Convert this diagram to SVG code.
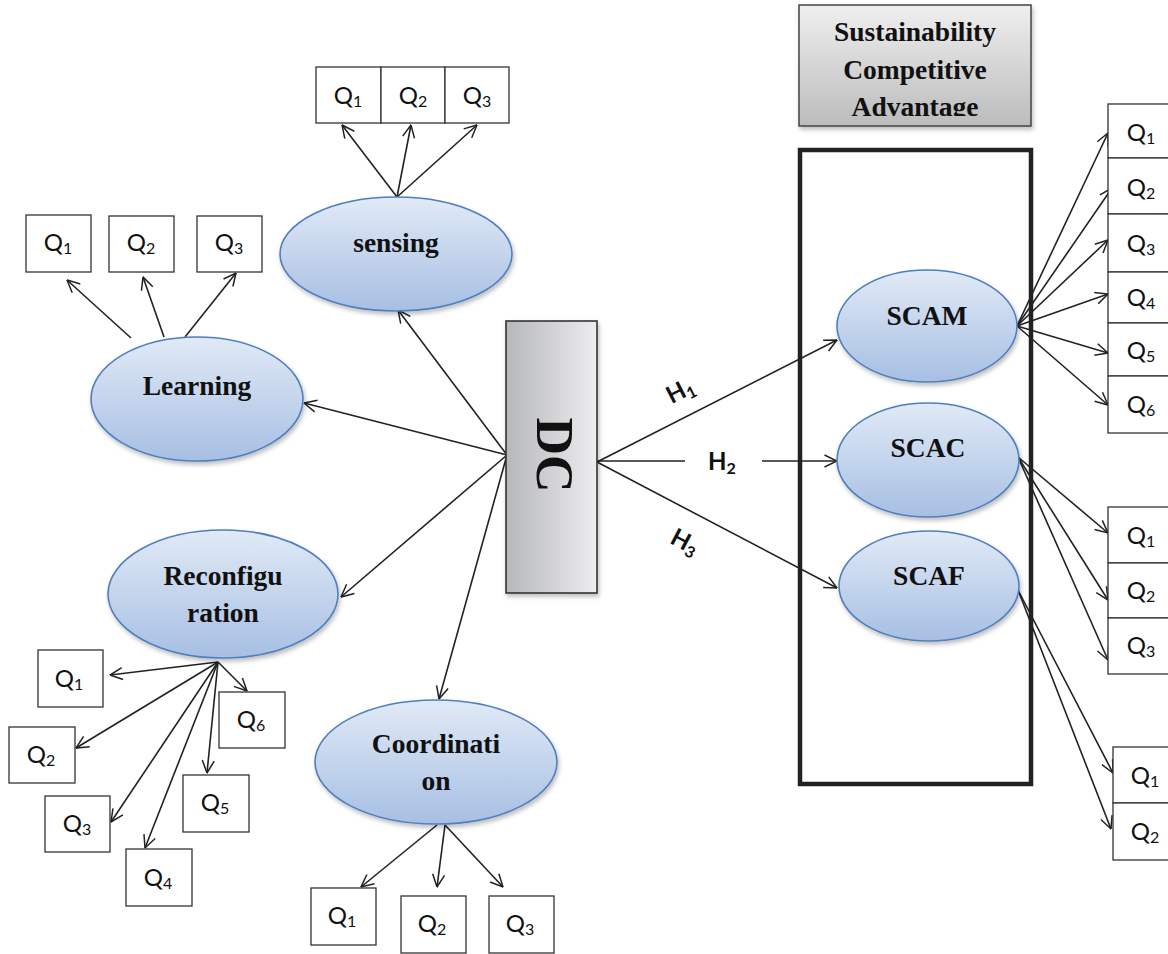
<svg xmlns="http://www.w3.org/2000/svg" width="1168" height="954" viewBox="0 0 1168 954">
<style>
.q{fill:#fff;stroke:#333;stroke-width:1.3}
.ql{font-family:Lato,"Open Sans",sans-serif;font-size:24px;fill:#111;text-anchor:middle}
.sub{font-size:16px}
.el{fill:url(#eg);stroke:#4f7fbe;stroke-width:1.6;filter:url(#sh)}
.lt{font-family:"Liberation Serif","Times New Roman",serif;font-weight:bold;font-size:27.5px;fill:#111;text-anchor:middle}
.c{stroke:#222;stroke-width:1.6;fill:none;marker-end:url(#ah)}
.hl{font-family:Lato,"Open Sans",sans-serif;font-weight:bold;font-size:24px;fill:#111;text-anchor:middle}
</style>
<defs>
<linearGradient id="eg" x1="0" y1="0" x2="0" y2="1">
<stop offset="0" stop-color="#e1eaf6"/><stop offset="1" stop-color="#a7bfe3"/>
</linearGradient>
<linearGradient id="dg" x1="0" y1="0" x2="1" y2="0">
<stop offset="0" stop-color="#b6b7ba"/><stop offset="1" stop-color="#ededef"/>
</linearGradient>
<linearGradient id="sg" x1="0" y1="0" x2="0" y2="1">
<stop offset="0" stop-color="#efefef"/><stop offset="1" stop-color="#bcbcbc"/>
</linearGradient>
<filter id="sh" x="-10%" y="-10%" width="125%" height="130%">
<feDropShadow dx="1.5" dy="3" stdDeviation="2" flood-color="#000" flood-opacity="0.25"/>
</filter>
<clipPath id="sc"><rect x="799" y="5" width="232" height="111"/></clipPath>
<marker id="ah" viewBox="0 0 14 14" refX="13.5" refY="7" markerWidth="14" markerHeight="14" markerUnits="userSpaceOnUse" orient="auto">
<path d="M1,1 L13.5,7 L1,13" fill="none" stroke="#222" stroke-width="1.5"/>
</marker>
</defs>
<rect width="1168" height="954" fill="#fff"/>

<g id="sca-box">
<rect x="799" y="5" width="232" height="121" fill="url(#sg)" stroke="#444" stroke-width="1.5" filter="url(#sh)"/>
<g clip-path="url(#sc)">
<text class="lt" x="915" y="41">Sustainability</text>
<text class="lt" x="915" y="79">Competitive</text>
<text class="lt" x="915" y="116">Advantage</text>
</g>
</g>
<g id="sca-frame">
<rect x="800" y="150" width="231" height="634" fill="none" stroke="#222" stroke-width="4.5"/>
</g>

<g id="connectors">
<line class="c" x1="397" y1="197" x2="342" y2="125"/>
<line class="c" x1="397" y1="197" x2="411" y2="125"/>
<line class="c" x1="397" y1="197" x2="477" y2="125"/>
<line class="c" x1="131" y1="338" x2="67" y2="280"/>
<line class="c" x1="164" y1="337" x2="143" y2="277"/>
<line class="c" x1="185" y1="337" x2="236" y2="273"/>
<line class="c" x1="507" y1="455" x2="398" y2="310"/>
<line class="c" x1="507" y1="455" x2="304" y2="403"/>
<line class="c" x1="507" y1="455" x2="341" y2="597"/>
<line class="c" x1="507" y1="455" x2="439" y2="699"/>
<line class="c" x1="218" y1="662" x2="110" y2="675"/>
<line class="c" x1="218" y1="662" x2="76" y2="748"/>
<line class="c" x1="218" y1="662" x2="111" y2="822"/>
<line class="c" x1="218" y1="662" x2="145" y2="848"/>
<line class="c" x1="218" y1="662" x2="207" y2="773"/>
<line class="c" x1="218" y1="662" x2="247" y2="691"/>
<line class="c" x1="437" y1="825" x2="361" y2="887"/>
<line class="c" x1="445" y1="825" x2="437" y2="887"/>
<line class="c" x1="445" y1="825" x2="503" y2="887"/>
<line class="c" x1="597" y1="462" x2="837" y2="340"/>
<line stroke="#222" stroke-width="1.6" x1="597" y1="461" x2="685" y2="461"/>
<line class="c" x1="762" y1="461" x2="837" y2="461"/>
<line class="c" x1="597" y1="462" x2="837" y2="588"/>
<line class="c" x1="1017" y1="326" x2="1108" y2="133"/>
<line class="c" x1="1017" y1="326" x2="1112" y2="188"/>
<line class="c" x1="1017" y1="326" x2="1108" y2="240"/>
<line class="c" x1="1017" y1="326" x2="1108" y2="294"/>
<line class="c" x1="1017" y1="326" x2="1108" y2="353"/>
<line class="c" x1="1017" y1="326" x2="1108" y2="405"/>
<line class="c" x1="1018" y1="457" x2="1108" y2="533"/>
<line class="c" x1="1018" y1="457" x2="1108" y2="600"/>
<line class="c" x1="1018" y1="457" x2="1108" y2="660"/>
<line class="c" x1="1018" y1="590" x2="1113" y2="773"/>
<line class="c" x1="1018" y1="590" x2="1111" y2="829"/>
<text class="hl" transform="translate(684,398) rotate(-27)">H<tspan class="sub" dy="4">1</tspan></text>
<text class="hl" x="722" y="470">H<tspan class="sub" dy="4">2</tspan></text>
<text class="hl" transform="translate(681,549) rotate(28)">H<tspan class="sub" dy="4">3</tspan></text>
</g>

<g id="dc">
<rect x="506" y="321" width="91" height="272" fill="url(#dg)" stroke="#333" stroke-width="1.6" filter="url(#sh)"/>
<text transform="translate(537,455) rotate(90)" x="0" y="0" font-family="'Liberation Serif','Times New Roman',serif" font-weight="bold" font-size="52" fill="#111" text-anchor="middle">DC</text>
</g>

<g id="sensing">
<ellipse class="el" cx="396" cy="254" rx="116" ry="57"/>
<text class="lt" x="396" y="252">sensing</text>
</g>
<g id="sensing-q">
<rect class="q" x="316" y="67" width="65" height="56"/>
<rect class="q" x="381" y="67" width="64" height="56"/>
<rect class="q" x="445" y="67" width="64" height="56"/>
<text class="ql" x="348" y="104">Q<tspan class="sub" dy="3">1</tspan></text>
<text class="ql" x="413" y="104">Q<tspan class="sub" dy="3">2</tspan></text>
<text class="ql" x="477" y="104">Q<tspan class="sub" dy="3">3</tspan></text>
</g>

<g id="learning">
<ellipse class="el" cx="197" cy="399" rx="106" ry="62"/>
<text class="lt" x="197" y="395">Learning</text>
</g>
<g id="learning-q">
<rect class="q" x="26" y="215" width="65" height="57"/>
<rect class="q" x="109" y="216" width="65" height="56"/>
<rect class="q" x="197" y="216" width="65" height="56"/>
<text class="ql" x="58" y="251">Q<tspan class="sub" dy="3">1</tspan></text>
<text class="ql" x="141" y="251">Q<tspan class="sub" dy="3">2</tspan></text>
<text class="ql" x="229" y="251">Q<tspan class="sub" dy="3">3</tspan></text>
</g>

<g id="reconfiguration">
<ellipse class="el" cx="223" cy="594" rx="115" ry="64"/>
<text class="lt" x="223" y="585">Reconfigu</text>
<text class="lt" x="223" y="622">ration</text>
</g>
<g id="reconfiguration-q">
<rect class="q" x="38" y="650" width="65" height="57"/>
<rect class="q" x="9" y="727" width="66" height="56"/>
<rect class="q" x="45" y="796" width="65" height="56"/>
<rect class="q" x="126" y="849" width="66" height="57"/>
<rect class="q" x="183" y="775" width="66" height="57"/>
<rect class="q" x="219" y="692" width="66" height="56"/>
<text class="ql" x="69" y="687">Q<tspan class="sub" dy="3">1</tspan></text>
<text class="ql" x="41" y="763">Q<tspan class="sub" dy="3">2</tspan></text>
<text class="ql" x="77" y="832">Q<tspan class="sub" dy="3">3</tspan></text>
<text class="ql" x="158" y="886">Q<tspan class="sub" dy="3">4</tspan></text>
<text class="ql" x="215" y="811">Q<tspan class="sub" dy="3">5</tspan></text>
<text class="ql" x="251" y="728">Q<tspan class="sub" dy="3">6</tspan></text>
</g>

<g id="coordination">
<ellipse class="el" cx="436" cy="762" rx="121" ry="62"/>
<text class="lt" x="436" y="753">Coordinati</text>
<text class="lt" x="436" y="790">on</text>
</g>
<g id="coordination-q">
<rect class="q" x="311" y="888" width="65" height="57"/>
<rect class="q" x="401" y="896" width="65" height="57"/>
<rect class="q" x="489" y="896" width="65" height="57"/>
<text class="ql" x="342" y="924">Q<tspan class="sub" dy="3">1</tspan></text>
<text class="ql" x="432" y="932">Q<tspan class="sub" dy="3">2</tspan></text>
<text class="ql" x="520" y="932">Q<tspan class="sub" dy="3">3</tspan></text>
</g>

<g id="scam">
<ellipse class="el" cx="927" cy="326" rx="90" ry="56"/>
<text class="lt" x="927" y="325">SCAM</text>
</g>
<g id="scam-q">
<rect class="q" x="1108" y="104" width="80" height="54"/>
<rect class="q" x="1108" y="158" width="80" height="56"/>
<rect class="q" x="1108" y="214" width="80" height="58"/>
<rect class="q" x="1108" y="272" width="80" height="51"/>
<rect class="q" x="1108" y="323" width="80" height="53"/>
<rect class="q" x="1108" y="376" width="80" height="57"/>
<text class="ql" x="1141" y="141">Q<tspan class="sub" dy="3">1</tspan></text>
<text class="ql" x="1141" y="196">Q<tspan class="sub" dy="3">2</tspan></text>
<text class="ql" x="1141" y="252">Q<tspan class="sub" dy="3">3</tspan></text>
<text class="ql" x="1141" y="306">Q<tspan class="sub" dy="3">4</tspan></text>
<text class="ql" x="1141" y="359">Q<tspan class="sub" dy="3">5</tspan></text>
<text class="ql" x="1141" y="413">Q<tspan class="sub" dy="3">6</tspan></text>
</g>

<g id="scac">
<ellipse class="el" cx="928" cy="460" rx="91" ry="57"/>
<text class="lt" x="928" y="457">SCAC</text>
</g>
<g id="scac-q">
<rect class="q" x="1108" y="507" width="80" height="56"/>
<rect class="q" x="1108" y="563" width="80" height="55"/>
<rect class="q" x="1108" y="618" width="80" height="56"/>
<text class="ql" x="1141" y="544">Q<tspan class="sub" dy="3">1</tspan></text>
<text class="ql" x="1141" y="599">Q<tspan class="sub" dy="3">2</tspan></text>
<text class="ql" x="1141" y="654">Q<tspan class="sub" dy="3">3</tspan></text>
</g>

<g id="scaf">
<ellipse class="el" cx="929" cy="586" rx="90" ry="55"/>
<text class="lt" x="929" y="585">SCAF</text>
</g>
<g id="scaf-q">
<rect class="q" x="1113" y="747" width="80" height="56"/>
<rect class="q" x="1113" y="803" width="80" height="57"/>
<text class="ql" x="1145" y="784">Q<tspan class="sub" dy="3">1</tspan></text>
<text class="ql" x="1145" y="840">Q<tspan class="sub" dy="3">2</tspan></text>
</g>
</svg>
